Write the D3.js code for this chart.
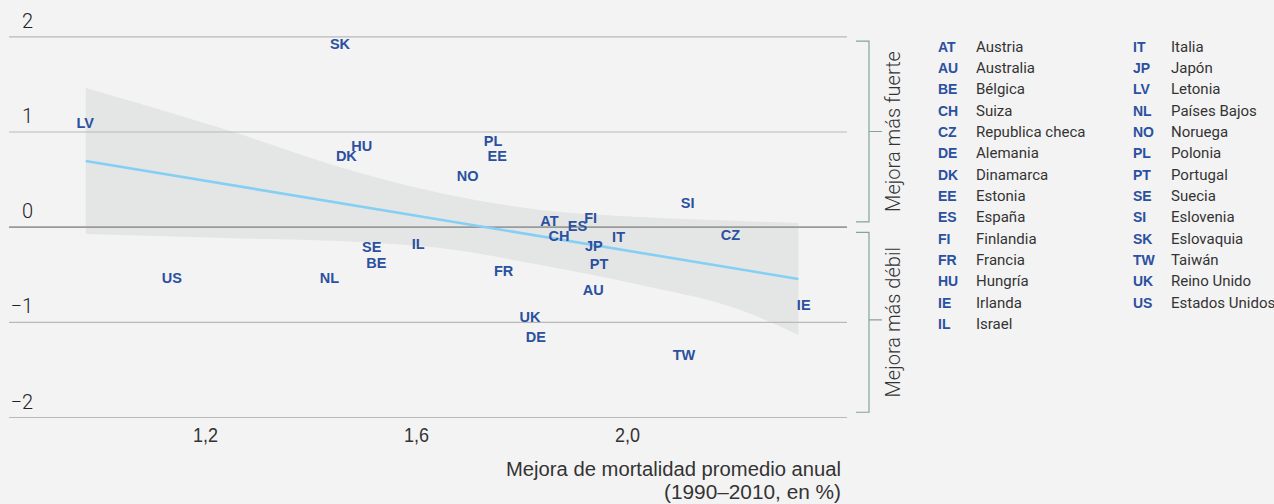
<!DOCTYPE html>
<html>
<head>
<meta charset="utf-8">
<script src="https://cdn.jsdelivr.net/npm/d3@7"></script>
<style>
  html, body { margin: 0; padding: 0; background: #f3f3f3; }
  svg { display: block; }
</style>
</head>
<body>
<svg id="chart" width="1274" height="504"></svg>
<script>
// Country codes and names (legend order)
const codes = ["AT","AU","BE","CH","CZ","DE","DK","EE","ES","FI","FR","HU","IE","IL",
               "IT","JP","LV","NL","NO","PL","PT","SE","SI","SK","TW","UK","US"];
const names = ["Austria","Australia","Bélgica","Suiza","Republica checa","Alemania","Dinamarca",
               "Estonia","España","Finlandia","Francia","Hungría","Irlanda","Israel",
               "Italia","Japón","Letonia","Países Bajos","Noruega","Polonia","Portugal",
               "Suecia","Eslovenia","Eslovaquia","Taiwán","Reino Unido","Estados Unidos"];

// Average annual mortality improvement 1990–2010 (%), per country
const improvement = [1.853, 1.936, 1.525, 1.871, 2.196, 1.827, 1.468, 1.754, 1.906, 1.931,
                     1.766, 1.497, 2.335, 1.604, 1.984, 1.937, 0.973, 1.436, 1.698, 1.746,
                     1.947, 1.516, 2.115, 1.456, 2.108, 1.816, 1.137];
// Deviation from the cross-country pattern, per country
const deviation = [0.065, -0.662, -0.377, -0.093, -0.082, -1.159, 0.747, 0.747, 0.012, 0.089,
                   -0.461, 0.852, -0.825, -0.184, -0.106, -0.198, 1.094, -0.541, 0.534, 0.905,
                   -0.387, -0.209, 0.251, 1.924, -1.343, -0.942, -0.534];

// Fitted trend and its confidence band
const fitX = [0.974, 2.325];
const fitY = [0.690, -0.550];
const bandX     = [0.974, 1.242, 1.494, 1.646, 1.836, 2.025, 2.215, 2.325];
const bandUpper = [1.456, 1.015, 0.563, 0.353, 0.175, 0.101, 0.059, 0.038];
const bandLower = [-0.077, -0.119, -0.161, -0.224, -0.403, -0.613, -0.876, -1.139];

// Axis ticks
const xTicks = [1.2, 1.6, 2.0];
const yTicks = [2, 1, 0, -1, -2];

// Bracket annotations on the right
const brackets = [
  { label: "Mejora más fuerte", from: 1.95, to: 0.05, mid: 1 },
  { label: "Mejora más débil", from: -0.06, to: -1.95, mid: -0.98 }
];

const svg = d3.select("#chart");
const W = 1274, H = 504;
const gridLeft = 9, gridRight = 847;

svg.append("rect").attr("width", W).attr("height", H).attr("fill", "#f3f3f3");

const x = d3.scaleLinear().domain([1.2, 2.0]).range([205, 627]);
const y = d3.scaleLinear().domain([-2, 2]).range([417, 36.3]);

const esLocale = d3.formatLocale({ decimal: ",", thousands: ".", grouping: [3], currency: ["", " €"] });

// Confidence band
const band = bandX.map((v, i) => ({ x: v, lo: bandLower[i], hi: bandUpper[i] }));
svg.append("path")
  .datum(band)
  .attr("fill", "#e3e6e5")
  .attr("d", d3.area()
    .x(d => x(d.x))
    .y0(d => y(d.lo))
    .y1(d => y(d.hi))
    .curve(d3.curveMonotoneX));

// Horizontal gridlines + y labels
const yAxis = svg.append("g")
  .attr("transform", `translate(${gridRight},0)`)
  .call(d3.axisLeft(y).tickValues(yTicks).tickSize(gridRight - gridLeft).tickFormat(d3.format("d")));
yAxis.select(".domain").remove();
yAxis.selectAll(".tick line")
  .attr("stroke", d => d === 0 ? "#9a9a9a" : "#b9b9b9")
  .attr("stroke-width", d => d === 0 ? 1.8 : 1.2);
yAxis.selectAll(".tick text")
  .attr("x", 33 - gridRight)
  .attr("dy", "-9")
  .attr("text-anchor", "end")
  .attr("fill", "#222")
  .style("font-family", "Roboto, 'Liberation Sans', sans-serif")
  .style("font-weight", 300)
  .style("font-size", "20px");

// X tick labels
const xAxis = svg.append("g")
  .attr("transform", "translate(0,428)")
  .call(d3.axisBottom(x).tickValues(xTicks).tickSize(0).tickFormat(esLocale.format(".1f")));
xAxis.select(".domain").remove();
xAxis.selectAll(".tick text")
  .attr("y", 0)
  .attr("dy", "0.71em")
  .attr("fill", "#333")
  .attr("textLength", 25)
  .attr("lengthAdjust", "spacingAndGlyphs")
  .style("font-family", "'Liberation Sans Narrow', 'Liberation Sans', sans-serif")
  .style("font-size", "20px");

// X axis title
const titleLines = [
  { text: "Mejora de mortalidad promedio anual", y: 476, w: 335 },
  { text: "(1990–2010, en %)", y: 499, w: 177 }
];
svg.append("g").selectAll("text")
  .data(titleLines)
  .join("text")
  .attr("x", 841)
  .attr("y", d => d.y)
  .attr("text-anchor", "end")
  .attr("textLength", d => d.w)
  .attr("lengthAdjust", "spacingAndGlyphs")
  .attr("fill", "#333")
  .style("font-family", "'Liberation Sans Narrow', 'Liberation Sans', sans-serif")
  .style("font-size", "20px")
  .text(d => d.text);

// Fitted line
svg.append("path")
  .datum(fitX.map((v, i) => [v, fitY[i]]))
  .attr("fill", "none")
  .attr("stroke", "#86cff4")
  .attr("stroke-width", 2.6)
  .attr("d", d3.line().x(d => x(d[0])).y(d => y(d[1])));

// Country labels as point markers
svg.append("g").selectAll("text")
  .data(codes.map((c, i) => ({ c, xv: improvement[i], yv: deviation[i] })))
  .join("text")
  .attr("x", d => x(d.xv))
  .attr("y", d => y(d.yv))
  .attr("dy", "0.36em")
  .attr("text-anchor", "middle")
  .attr("fill", "#2b50a0")
  .style("font-family", "'Liberation Sans', Arial, sans-serif")
  .style("font-weight", "bold")
  .style("font-size", "14.5px")
  .text(d => d.c);

// Brackets
const bk = svg.append("g");
brackets.forEach(b => {
  const y0 = y(b.from), y1 = y(b.to), ym = y(b.mid);
  bk.append("path")
    .attr("fill", "none")
    .attr("stroke", "#86a39b")
    .attr("stroke-width", 1.2)
    .attr("d", `M856,${y0}H869V${y1}H856M869,${ym}H882`);
  bk.append("text")
    .attr("transform", `translate(900,${(y0 + y1) / 2}) rotate(-90)`)
    .attr("text-anchor", "middle")
    .attr("fill", "#333")
    .style("font-family", "Roboto, 'Liberation Sans', sans-serif")
    .style("font-weight", 300)
    .style("font-size", "20px")
    .text(b.label);
});

// Legend in two columns
const perCol = 14;
const legend = svg.append("g");
const rows = codes.map((c, i) => ({
  c, n: names[i],
  col: Math.floor(i / perCol),
  row: i % perCol
}));
const colX = [938, 1133];
const nameOff = 38;
const rowY = r => 51.5 + r * 21.35;
legend.selectAll("text.code")
  .data(rows)
  .join("text")
  .attr("class", "code")
  .attr("x", d => colX[d.col])
  .attr("y", d => rowY(d.row))
  .attr("fill", "#2b50a0")
  .style("font-family", "'Liberation Sans', Arial, sans-serif")
  .style("font-weight", "bold")
  .style("font-size", "14px")
  .text(d => d.c);
legend.selectAll("text.name")
  .data(rows)
  .join("text")
  .attr("class", "name")
  .attr("x", d => colX[d.col] + nameOff)
  .attr("y", d => rowY(d.row))
  .attr("fill", "#333")
  .style("font-family", "Roboto, 'Liberation Sans', sans-serif")
  .style("font-size", "15px")
  .text(d => d.n);
</script>
</body>
</html>
